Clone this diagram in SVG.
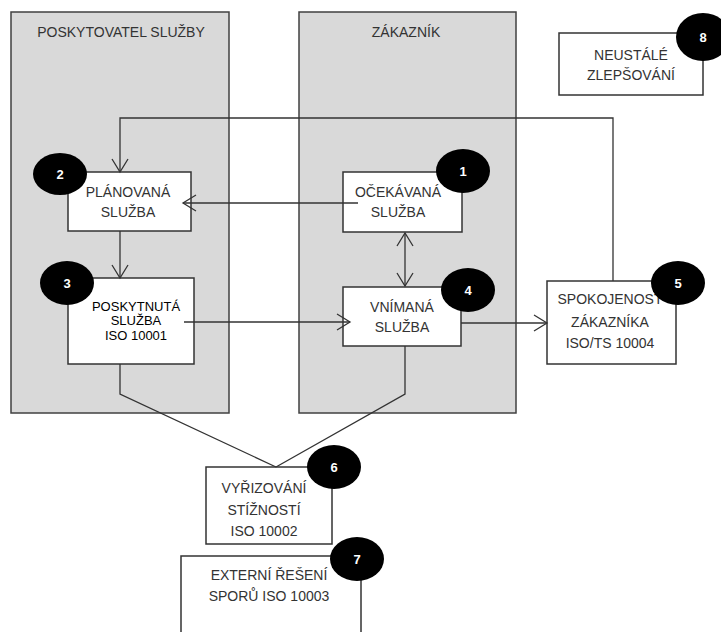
<svg xmlns="http://www.w3.org/2000/svg" width="721" height="632" viewBox="0 0 721 632">
<style>
.panel{fill:#d9d9d9;stroke:#404040;stroke-width:1.5}
.box{fill:#ffffff;stroke:#333333;stroke-width:1.5}
.badge{fill:#000000}
.num{fill:#ffffff;font-family:"Liberation Sans",Arial,sans-serif;font-size:13px;font-weight:bold;text-anchor:middle}
.t{fill:#333333;font-family:"Liberation Sans",Arial,sans-serif;font-size:14px;text-anchor:middle}
.ta{fill:#000000;font-family:"Liberation Sans",Arial,sans-serif;font-size:13px;text-anchor:middle}
.c{fill:none;stroke:#333333;stroke-width:1.3}
</style>
<defs>
<marker id="v" markerUnits="userSpaceOnUse" markerWidth="16" markerHeight="20" refX="14" refY="9" orient="auto-start-reverse">
<path d="M1,1 L14,9 L1,17" fill="none" stroke="#333333" stroke-width="1.3"/>
</marker>
</defs>
<rect width="721" height="632" fill="#ffffff"/>
<g id="panel-poskytovatel">
<rect class="panel" x="11" y="12" width="218" height="401"/>
<text class="t" x="121" y="37">POSKYTOVATEL SLUŽBY</text>
</g>
<g id="panel-zakaznik">
<rect class="panel" x="299" y="12" width="217" height="401"/>
<text class="t" x="406" y="37">ZÁKAZNÍK</text>
</g>
<g id="node-8">
<rect class="box" x="559" y="33" width="144" height="62"/>
<text class="t" x="631" y="60">NEUSTÁLÉ</text>
<text class="t" x="631" y="80">ZLEPŠOVÁNÍ</text>
<ellipse class="badge" cx="703" cy="37" rx="27" ry="24"/>
<text class="num" x="703" y="42">8</text>
</g>
<g id="node-2">
<rect class="box" x="68" y="172" width="123" height="59"/>
<text class="t" x="128" y="197">PLÁNOVANÁ</text>
<text class="t" x="128" y="217">SLUŽBA</text>
<ellipse class="badge" cx="60" cy="174" rx="27" ry="21"/>
<text class="num" x="60" y="179">2</text>
</g>
<g id="node-1">
<rect class="box" x="343" y="172" width="119" height="60"/>
<text class="t" x="398" y="197">OČEKÁVANÁ</text>
<text class="t" x="398" y="217">SLUŽBA</text>
</g>
<g id="node-3">
<rect class="box" x="68" y="278" width="126" height="86"/>
<text class="ta" x="136" y="311">POSKYTNUTÁ</text>
<text class="ta" x="136" y="325">SLUŽBA</text>
<text class="ta" x="136" y="340">ISO 10001</text>
<ellipse class="badge" cx="67" cy="283" rx="27" ry="22"/>
<text class="num" x="67" y="288">3</text>
</g>
<g id="node-4">
<rect class="box" x="343" y="287" width="118" height="59"/>
<text class="t" x="402" y="312">VNÍMANÁ</text>
<text class="t" x="402" y="332">SLUŽBA</text>
</g>
<g id="node-5">
<rect class="box" x="547" y="281" width="129" height="83"/>
<text class="t" x="610" y="304">SPOKOJENOST</text>
<text class="t" x="610" y="327">ZÁKAZNÍKA</text>
<text class="t" x="610" y="348">ISO/TS 10004</text>
</g>
<g id="node-6">
<rect class="box" x="206" y="467" width="126" height="77"/>
<text class="t" x="264" y="493">VYŘIZOVÁNÍ</text>
<text class="t" x="264" y="515">STÍŽNOSTÍ</text>
<text class="t" x="264" y="536">ISO 10002</text>
</g>
<g id="node-7">
<rect class="box" x="181" y="556" width="180" height="90"/>
<text class="t" x="269" y="580">EXTERNÍ ŘEŠENÍ</text>
<text class="t" x="269" y="601">SPORŮ ISO 10003</text>
</g>
<g id="connectors">
<polyline class="c" points="613,281 613,118 120,118 120,172" marker-end="url(#v)"/>
<line class="c" x1="358" y1="203" x2="183" y2="203" marker-end="url(#v)"/>
<line class="c" x1="120" y1="231" x2="120" y2="278" marker-end="url(#v)"/>
<line class="c" x1="405" y1="233" x2="405" y2="286" marker-start="url(#v)" marker-end="url(#v)"/>
<line class="c" x1="184" y1="322" x2="350" y2="322" marker-end="url(#v)"/>
<line class="c" x1="461" y1="323" x2="547" y2="323" marker-end="url(#v)"/>
<polyline class="c" points="120,364 120,394 276,467"/>
<polyline class="c" points="405,346 405,394 276,467"/>
</g>
<g id="badges">
<ellipse class="badge" cx="463" cy="171" rx="27" ry="22"/>
<text class="num" x="463" y="176">1</text>
<ellipse class="badge" cx="468" cy="290" rx="27" ry="22"/>
<text class="num" x="468" y="295">4</text>
<ellipse class="badge" cx="678" cy="283" rx="27" ry="22"/>
<text class="num" x="678" y="288">5</text>
<ellipse class="badge" cx="334" cy="467" rx="27" ry="22"/>
<text class="num" x="334" y="472">6</text>
<ellipse class="badge" cx="357" cy="559" rx="27" ry="22"/>
<text class="num" x="357" y="564">7</text>
</g>
</svg>
